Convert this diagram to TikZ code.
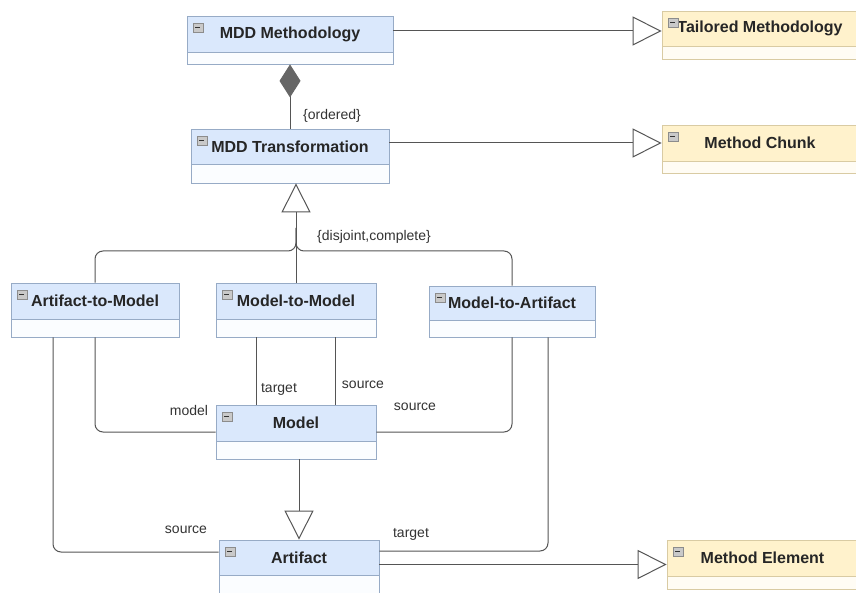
\documentclass[tikz,border=0pt]{standalone}
\usepackage{fontspec}
\setmainfont{Liberation Sans}
\usetikzlibrary{arrows.meta,fit}
\definecolor{bluehd}{HTML}{DAE8FC}
\definecolor{bluelo}{HTML}{FBFDFF}
\definecolor{bluebd}{HTML}{97ABC6}
\definecolor{orhd}{HTML}{FFF2CC}
\definecolor{orlo}{HTML}{FFFCF4}
\definecolor{orbd}{HTML}{D9CBA3}
\definecolor{connc}{HTML}{555555}
\definecolor{diamc}{HTML}{666666}
\definecolor{lblc}{HTML}{333333}
\definecolor{icbd}{HTML}{8C8C8C}
\definecolor{icfill}{HTML}{C9C9C9}
\newcommand\umlbox[8]{%
  \node[fit={(#2,#3)(#4,#6)}, inner sep=0pt, draw=#8bd, fill=#8lo, line width=0.8pt] (#1) {};
  \node[fit={(#2,#3)(#4,#5)}, inner sep=0pt, draw=#8bd, fill=#8hd, line width=0.8pt] (#1-h) {};
  \node[title] (#1-t) at (#1-h.center) {#7};
  \node[icon, anchor=north west] (#1-i) at ([xshift=6pt,yshift=-7pt]#1.north west) {};
}
\begin{document}
\begin{tikzpicture}[x=1pt,y=-1pt,
  conn/.style={draw=connc, line width=1pt},
  title/.style={font=\bfseries\fontsize{16}{19}\selectfont, text=black!85, inner sep=0pt},
  lbl/.style={font=\fontsize{14}{16}\selectfont, text=lblc, inner sep=0pt},
  icon/.style={draw=icbd, fill=icfill, minimum width=10pt, minimum height=9pt, inner sep=0pt,
    path picture={\draw[line width=1.3pt, black!80] ([xshift=2.5pt]path picture bounding box.west) -- ([xshift=-2.5pt]path picture bounding box.east);}},
  gen/.style={-{Triangle[open, length=29pt, width=29pt]}},
]
\useasboundingbox (0,0) rectangle (856,593);
\fill[white] (0,0) rectangle (856,593);

\umlbox{mm}{187}{16}{393}{52}{64}{MDD Methodology}{blue}
\umlbox{tm}{662}{11}{858}{46}{59}{Tailored Methodology}{or}
\umlbox{mt}{191}{129}{389}{164}{183}{MDD Transformation}{blue}
\umlbox{mc}{662}{125}{858}{161}{173}{Method Chunk}{or}
\umlbox{a2m}{11}{283}{179}{319}{337}{Artifact-to-Model}{blue}
\umlbox{m2m}{216}{283}{376}{319}{337}{Model-to-Model}{blue}
\umlbox{m2a}{429}{286}{595}{320}{337}{Model-to-Artifact}{blue}
\umlbox{mod}{216}{405}{376}{441}{459}{Model}{blue}
\umlbox{art}{219}{540}{379}{575}{593}{Artifact}{blue}
\umlbox{me}{667}{540}{858}{576}{589}{Method Element}{or}

\coordinate (yT) at (0,31);
\coordinate (yC) at (0,143);
\coordinate (gj) at (296,228);
\coordinate (xS) at (53,0);
\coordinate (xTg) at (256,0);
\coordinate (xSr) at (335,0);
\coordinate (xT) at (548,0);
\coordinate (yS) at (0,552);
\coordinate (yTa) at (0,551);
\coordinate (yB) at (0,251);

\draw[conn, gen] (mm.east |- yT) -- (tm.west |- yT);
\draw[conn, gen] (mt.east |- yC) -- (mc.west |- yC);
\draw[conn, {Diamond[length=33pt,width=21pt,fill=diamc,color=diamc]}-] (mm.south) -- (mt.north);
\draw[conn, gen] (m2m.north) -- (mt.south -| m2m.north);
\draw[conn, rounded corners=8pt] (a2m.north) -- (a2m.north |- yB) -- (gj |- yB) -- (gj);
\draw[conn, rounded corners=8pt] (m2a.north) -- (m2a.north |- yB) -- (gj |- yB) -- (gj);
\draw[conn, rounded corners=8pt] (a2m.south) -- (a2m.south |- mod.west) -- (mod.west);
\draw[conn, rounded corners=8pt] (a2m.south -| xS) -- (xS |- yS) -- (art.west |- yS);
\draw[conn] (m2m.south -| xTg) -- (mod.north -| xTg);
\draw[conn] (m2m.south -| xSr) -- (mod.north -| xSr);
\draw[conn, rounded corners=8pt] (m2a.south) -- (m2a.south |- mod.east) -- (mod.east);
\draw[conn, rounded corners=8pt] (m2a.south -| xT) -- (xT |- yTa) -- (art.east |- yTa);
\draw[conn, gen] (mod.south -| art.north) -- (art.north);
\draw[conn, gen] (art.east |- me.west) -- (me.west);

\node[lbl] (l-ord) at (332,116) {\{ordered\}};
\node[lbl] (l-dc) at (374,237) {\{disjoint,complete\}};
\node[lbl] (l-model) at (189,410) {model};
\node[lbl] (l-tg1) at (279,389) {target};
\node[lbl] (l-s1) at (363,385) {source};
\node[lbl] (l-s2) at (415,407) {source};
\node[lbl] (l-s3) at (186,530) {source};
\node[lbl] (l-tg2) at (411,534) {target};
\end{tikzpicture}
\end{document}
